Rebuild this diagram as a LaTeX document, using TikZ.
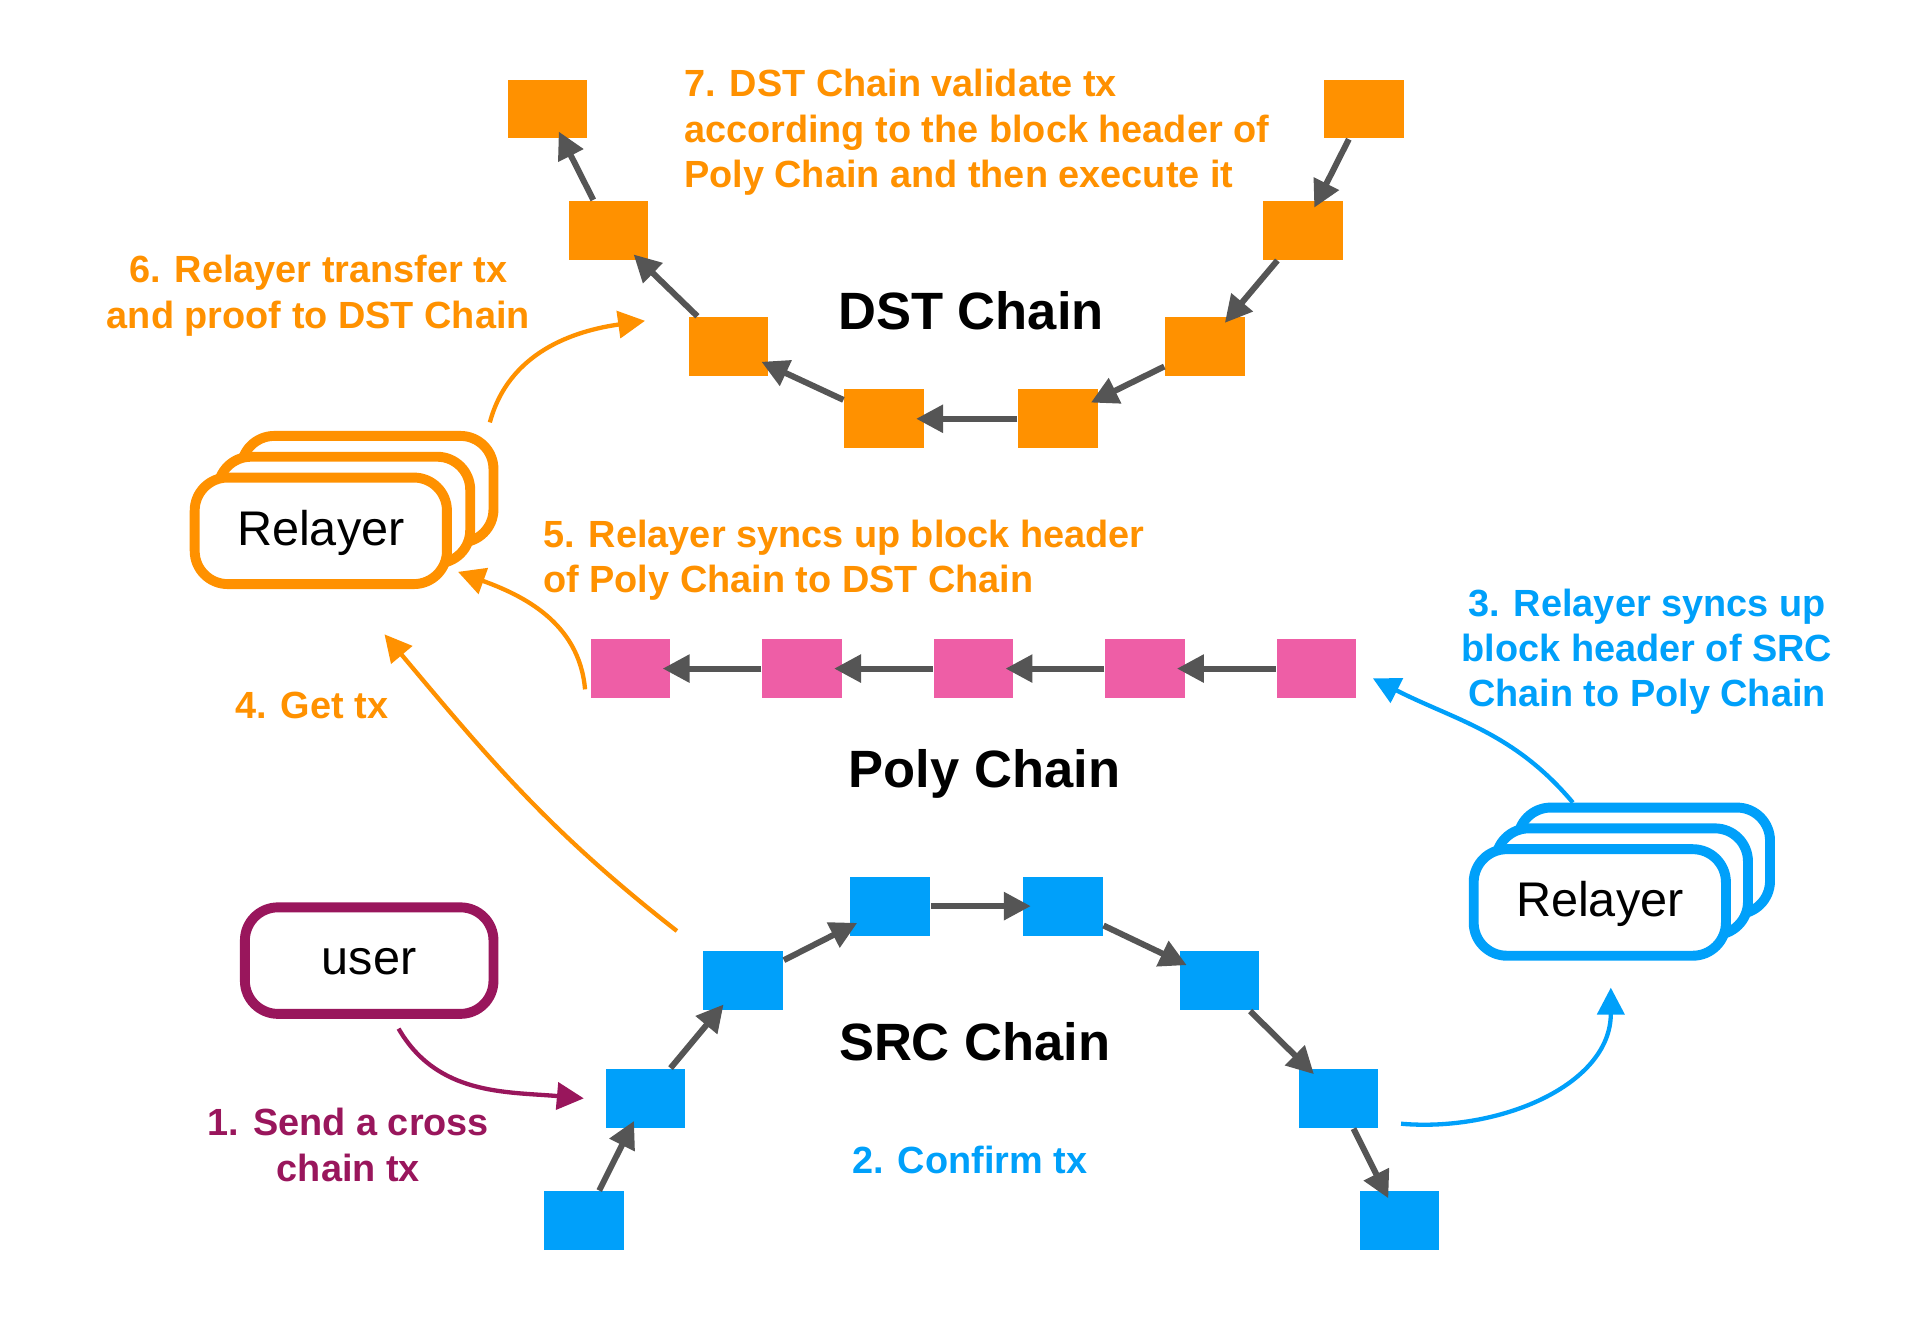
\documentclass[tikz,border=0pt]{standalone}
\usepackage{fontspec}
\setmainfont{Liberation Sans}
\usetikzlibrary{arrows.meta}

\definecolor{polyorange}{RGB}{255,145,0}
\definecolor{polyblue}{RGB}{0,160,250}
\definecolor{polypink}{RGB}{238,94,166}
\definecolor{polymaroon}{RGB}{153,22,92}
\definecolor{linkgray}{RGB}{85,85,85}

\tikzset{
  chainblock/.style={minimum width=0.65cm, minimum height=0.48cm, inner sep=0pt},
  link/.style={-{Triangle[length=0.22cm,width=0.22cm]}, line width=1.4pt, draw=linkgray, shorten >=-2pt},
  flow/.style={-{Triangle[length=0.22cm,width=0.22cm]}, line width=1pt},
  relayer/.style={draw, line width=2.3pt, rounded corners=0.27cm, fill=white,
    minimum width=2.06cm, minimum height=0.87cm, text height=1.5ex, text depth=0.25ex,
    font=\fontsize{11.3}{13}\selectfont},
  chaintitle/.style={font=\bfseries\fontsize{12.2}{14}\selectfont},
  steplabel/.style={font=\bfseries\fontsize{8.8}{10.5}\selectfont, inner sep=0pt}
}

\begin{document}
\begin{tikzpicture}
  \useasboundingbox (0,0) rectangle (15.68,-10.80);

  % DST chain (orange), a U shape
  \foreach \i/\x/\y in {1/4.47/-0.89, 2/4.97/-1.88, 3/5.95/-2.83, 4/7.22/-3.42,
                        5/8.64/-3.42, 6/9.84/-2.83, 7/10.64/-1.88, 8/11.14/-0.89} {
    \node[chainblock, fill=polyorange] (D\i) at (\x,\y) {};
  }
  \foreach \a/\b in {8/7, 7/6, 6/5, 5/4, 4/3, 3/2, 2/1} {
    \draw[link] (D\a) -- (D\b);
  }
  \node[chaintitle] (dsttitle) at (7.93,-2.54) {DST Chain};

  % Poly chain (pink), a straight row
  \foreach \i in {1,...,5} {
    \node[chainblock, fill=polypink] (P\i) at (5.15+1.40*\i-1.40,-5.46) {};
  }
  \foreach \a/\b in {5/4, 4/3, 3/2, 2/1} {
    \draw[link] (P\a) -- (P\b);
  }
  \node[chaintitle] (polytitle) at (8.04,-6.32) {Poly Chain};

  % SRC chain (blue), an arch
  \foreach \i/\x/\y in {1/4.77/-9.97, 2/5.27/-8.97, 3/6.07/-8.01, 4/7.27/-7.40,
                        5/8.68/-7.40, 6/9.96/-8.01, 7/10.93/-8.97, 8/11.43/-9.97} {
    \node[chainblock, fill=polyblue] (S\i) at (\x,\y) {};
  }
  \foreach \a/\b in {1/2, 2/3, 3/4, 4/5, 5/6, 6/7, 7/8} {
    \draw[link] (S\a) -- (S\b);
  }
  \node[chaintitle] (srctitle) at (7.96,-8.51) {SRC Chain};

  % Relayers, three stacked boxes each
  \node[relayer, draw=polyorange] (relL3) at (3.00,-3.995) {};
  \node[relayer, draw=polyorange] (relL2) at (2.81,-4.165) {};
  \node[relayer, draw=polyorange] (relL) at (2.62,-4.335) {Relayer};

  \node[relayer, draw=polyblue] (relR3) at (13.425,-7.03) {};
  \node[relayer, draw=polyblue] (relR2) at (13.245,-7.20) {};
  \node[relayer, draw=polyblue] (relR) at (13.065,-7.37) {Relayer};

  % user
  \node[relayer, draw=polymaroon, minimum width=2.03cm] (user) at (3.015,-7.845) {user};

  % Steps
  \draw[flow, polymaroon] ([shift={(0.24,-0.08)}]user.south) to[out=-60, in=175] ([xshift=-0.17cm]S2.west);
  \draw[flow, polyblue] ([shift={(0.18,0.04)}]S7.south east) to[out=-5, in=-90] ([shift={(0.09,-0.22)}]relR.south);
  \draw[flow, polyblue] ([xshift=-0.58cm]relR3.north) to[out=130, in=-27] ([shift={(0.13,-0.08)}]P5.east);
  \draw[flow, polyorange] ([shift={(-0.21,0.16)}]S3.north west) to[out=142, in=-50] ([shift={(0.52,-0.37)}]relL.south);
  \draw[flow, polyorange] ([shift={(-0.04,-0.17)}]P1.west) to[out=95, in=-20] ([shift={(0.05,-0.335)}]relL.east);
  \draw[flow, polyorange] ([shift={(-0.07,0.07)}]relL3.north east) to[out=75, in=188] ([shift={(-0.35,0.21)}]D3.west);

  \node[steplabel, text=polymaroon, align=center] (step1) at (2.845,-9.35) {1. Send a cross\\chain tx};
  \node[steplabel, text=polyblue] (step2) at (7.92,-9.47) {2. Confirm tx};
  \node[steplabel, text=polyblue, align=center] (step3) at (13.45,-5.32) {3. Relayer syncs up\\block header of SRC\\Chain to Poly Chain};
  \node[steplabel, text=polyorange] (step4) at (2.545,-5.76) {4. Get tx};
  \node[steplabel, text=polyorange, align=left, anchor=west] (step5) at (4.43,-4.575) {5. Relayer syncs up block header\\of Poly Chain to DST Chain};
  \node[steplabel, text=polyorange, align=center] (step6) at (2.60,-2.415) {6. Relayer transfer tx\\and proof to DST Chain};
  \node[steplabel, text=polyorange, align=left, anchor=west] (step7) at (5.58,-1.08) {7. DST Chain validate tx\\according to the block header of\\Poly Chain and then execute it};

\end{tikzpicture}
\end{document}
